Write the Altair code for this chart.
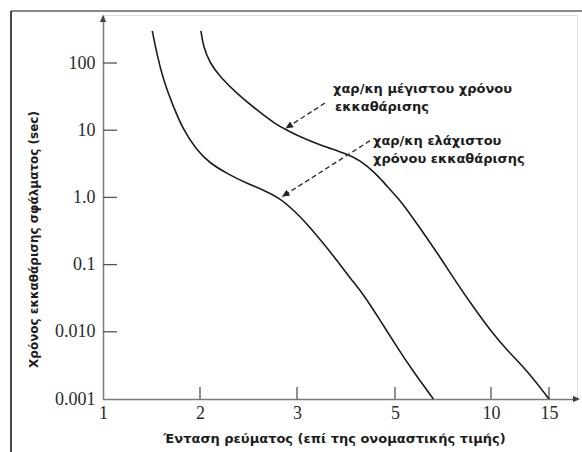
import altair as alt
import pandas as pd

# Minimum clearing time characteristic: current (x rated) vs time (s)
min_current = [1.508, 1.554, 1.622, 1.725, 1.828, 1.966, 2.103, 2.275, 2.481, 2.653, 2.825,
               2.962, 3.198, 3.537, 3.810, 4.082, 4.353, 4.694, 5.089, 5.953, 7.0]
min_time = [300, 139, 55.8, 22.4, 10.1, 5.07, 3.22, 2.28, 1.62, 1.29, 0.97,
            0.65, 0.412, 0.207, 0.117, 0.0633, 0.0365, 0.015, 0.006, 0.00255, 0.001]

# Maximum clearing time characteristic
max_current = [2.010, 2.034, 2.103, 2.206, 2.378, 2.585, 2.791, 2.894, 3.061, 3.469, 3.878, 4.149,
               4.422, 4.694, 4.939, 5.349, 6.302, 7.344, 8.214, 9.078, 9.948, 11.353, 13.078, 15.0]
max_time = [300, 175, 99, 62.5, 35.4, 20.0, 11.9, 10.07, 8.0, 6.02, 4.79, 4.03,
            3.03, 1.945, 1.203, 0.855, 0.351, 0.130, 0.0532, 0.0234, 0.01063, 0.00536, 0.0027, 0.001]

# Axis ticks
x_tick_values = [1, 2, 3, 5, 10, 15]
y_tick_values = [0.001, 0.01, 0.1, 1, 10, 100]
y_tick_labels = ["0.001", "0.010", "0.1", "1.0", "10", "100"]

# Annotation labels and their leader arrows
label_text = ["χαρ/κη μέγιστου χρόνου", "εκκαθάρισης", "χαρ/κη ελάχιστου", "χρόνου εκκαθάρισης"]
label_current = [3.735, 3.776, 4.551, 4.551]
label_time = [41.0, 22.1, 6.91, 3.73]

arrow_from_current = [3.571, 4.490]
arrow_from_time = [25.4, 6.98]
arrow_to_current = [2.881, 2.845]
arrow_to_time = [10.6, 1.02]

curves = pd.concat([
    pd.DataFrame({"I": min_current, "t": min_time, "curve": "min"}),
    pd.DataFrame({"I": max_current, "t": max_time, "curve": "max"}),
])
labels = pd.DataFrame({"I": label_current, "t": label_time, "text": label_text})
arrows = pd.DataFrame({"I": arrow_from_current, "t": arrow_from_time,
                       "I2": arrow_to_current, "t2": arrow_to_time})
heads = pd.DataFrame({"I": arrow_to_current, "t": arrow_to_time})
xticks = pd.DataFrame({"I": x_tick_values[1:]})
yticks = pd.DataFrame({"t": y_tick_values[1:]})
one = pd.DataFrame({"k": [0]})

W, H = 474, 384
axis_grey = "#7a7a7a"
ink = "#1c1c1c"

# Evenly spaced current ticks (schematic axis), log time axis
x_scale = alt.Scale(type="linear", domain=[1, 2, 3, 5, 10, 15, 17],
                    range=[0, 97, 194, 292, 388, 446, W], nice=False, zero=False)
y_scale = alt.Scale(type="log", domain=[0.001, 518], nice=False)

y_label_expr = ("[" + ",".join("'%s'" % s for s in y_tick_labels) + "][indexof(["
                + ",".join(repr(v) for v in y_tick_values) + "], datum.value)]")

X = alt.X("I:Q", scale=x_scale,
          axis=alt.Axis(values=x_tick_values, format="d", grid=False, ticks=False,
                        domainColor=axis_grey, domainWidth=1.5,
                        labelFont="Liberation Serif", labelFontSize=18, labelColor="#2a2a2a",
                        labelPadding=5, labelBaseline="top", labelFlush=False,
                        title="Ένταση ρεύματος (επί της ονομαστικής τιμής)",
                        titleFont="DejaVu Sans", titleFontWeight="bold", titleFontSize=13,
                        titleColor=ink, titleX=231, titleY=39, titleBaseline="middle"))
Y = alt.Y("t:Q", scale=y_scale,
          axis=alt.Axis(values=y_tick_values, labelExpr=y_label_expr, grid=False, ticks=False,
                        domainColor=axis_grey, domainWidth=1.5,
                        labelFont="Liberation Serif", labelFontSize=18, labelColor="#2a2a2a",
                        labelPadding=8, labelFlush=False,
                        title="Χρόνος εκκαθάρισης σφάλματος (sec)",
                        titleFont="DejaVu Sans", titleFontWeight="bold", titleFontSize=12,
                        titleColor=ink, titleX=-70, titleY=224, titleBaseline="middle"))

# Frame around the figure
frame_top = alt.Chart(one).mark_rule(color="#8a8a8a", strokeWidth=2).encode(
    x=alt.value(-92), x2=alt.value(W + 5), y=alt.value(-4))
frame_left = alt.Chart(one).mark_rule(color="#111111", strokeWidth=1.5).encode(
    x=alt.value(-92), y=alt.value(-4), y2=alt.value(H + 53))

# Inward tick marks
xtick_layer = alt.Chart(xticks).mark_rule(color="#555555", strokeWidth=1.3).encode(
    x=X, y=alt.value(H), y2=alt.value(H - 12))
ytick_layer = alt.Chart(yticks).mark_rule(color="#555555", strokeWidth=1.3).encode(
    y=Y, x=alt.value(0), x2=alt.value(14))

# Axis arrowheads
head_path = "M0,0L-0.45,1L0.45,1Z"
y_arrow = alt.Chart(one).mark_point(shape=head_path, filled=True, size=200, color="#444444",
                                    opacity=1, angle=0).encode(x=alt.value(0), y=alt.value(0))
x_arrow = alt.Chart(one).mark_point(shape=head_path, filled=True, size=200, color="#444444",
                                    opacity=1, angle=90).encode(x=alt.value(W + 3), y=alt.value(H))

curve_layer = alt.Chart(curves).mark_line(color=ink, strokeWidth=1.6, interpolate="basis").encode(
    x=X, y=Y, detail="curve:N")

arrow_lines = alt.Chart(arrows).mark_rule(color="#333333", strokeWidth=1.4, strokeDash=[5, 3]).encode(
    x=X, y=Y, x2="I2:Q", y2="t2:Q")
arrow_heads = alt.Chart(heads).mark_point(shape=head_path, filled=True, size=230, color="#222222",
                                          opacity=1, angle=237).encode(x=X, y=Y)

text_layer = alt.Chart(labels).mark_text(align="left", baseline="middle", font="DejaVu Sans",
                                         fontWeight="bold", fontSize=13, color=ink).encode(
    x=X, y=Y, text="text:N")

chart = alt.layer(
    frame_top, frame_left, xtick_layer, ytick_layer, curve_layer,
    arrow_lines, arrow_heads, text_layer, y_arrow, x_arrow
).properties(
    width=W, height=H,
    autosize=alt.AutoSizeParams(type="none"),
    padding={"left": 103, "top": 15, "right": 5, "bottom": 53},
).configure_view(stroke=None).configure(background="white")

chart.save("out.html", embed_options={"renderer": "svg", "actions": False})
